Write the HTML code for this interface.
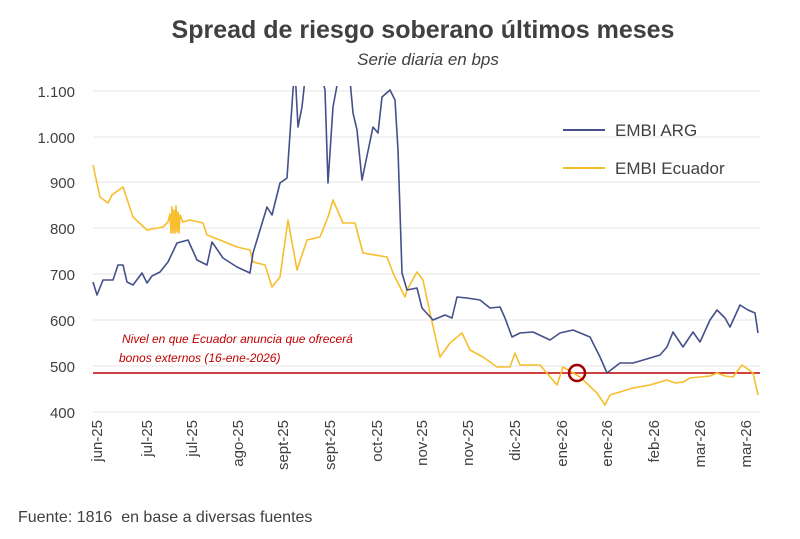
<!DOCTYPE html>
<html><head><meta charset="utf-8"><style>
body{margin:0;background:#fff;}
svg text{font-family:"Liberation Sans",sans-serif;}
</style></head><body>
<svg width="800" height="534" viewBox="0 0 800 534" xmlns="http://www.w3.org/2000/svg">
<defs><clipPath id="c"><rect x="88" y="86" width="680" height="340"/></clipPath></defs>
<text x="423" y="38" text-anchor="middle" font-size="25" font-weight="bold" fill="#404040">Spread de riesgo soberano últimos meses</text>
<text x="428" y="65" text-anchor="middle" font-size="17" font-style="italic" fill="#404040">Serie diaria en bps</text>
<g stroke="#e6e6e6" stroke-width="1">
<line x1="93" x2="760" y1="91" y2="91"/><line x1="93" x2="760" y1="137" y2="137"/><line x1="93" x2="760" y1="182" y2="182"/><line x1="93" x2="760" y1="228" y2="228"/><line x1="93" x2="760" y1="274" y2="274"/><line x1="93" x2="760" y1="320" y2="320"/><line x1="93" x2="760" y1="366" y2="366"/><line x1="93" x2="760" y1="412" y2="412"/>
</g>
<g font-size="15" fill="#404040" text-anchor="end">
<text x="75" y="97">1.100</text><text x="75" y="143">1.000</text><text x="75" y="188">900</text><text x="75" y="234">800</text><text x="75" y="280">700</text><text x="75" y="326">600</text><text x="75" y="372">500</text><text x="75" y="418">400</text>
</g>
<line x1="93" x2="760" y1="373" y2="373" stroke="#c00000" stroke-width="1.5"/>
<text x="122" y="343" font-size="12" font-style="italic" fill="#c00000">Nivel en que Ecuador anuncia que ofrecerá</text>
<text x="119" y="362" font-size="12" font-style="italic" fill="#c00000">bonos externos (16-ene-2026)</text>
<g clip-path="url(#c)" fill="none" stroke-width="1.6" stroke-linejoin="round">
<polyline stroke="#f7be2e" points="93,165 100,197 108,203 112,195 123,187 133,217 147,230 163,227 168,222 170,214 171,233 172,207 173,233 174,210 175,233 176,206 177,232 178,212 179,233 180,215 183,222 190,220 203,223 207,235 220,240 237,247 250,250 253,262 265,265 272,287 280,277 288,220 297,270 307,240 320,237 328,217 333,200 343,223 355,223 363,253 387,257 393,273 405,297 407,290 417,272 423,280 430,313 440,357 450,343 462,333 470,350 483,357 497,367 510,367 515,353 520,365 540,365 557,385 563,367 580,377 597,393 605,405 610,395 633,388 650,385 667,380 675,383 683,382 690,378 700,377 710,376 717,373 725,376 733,377 742,365 753,373 758,395"/>
<polyline stroke="#44508a" points="93,282 97,295 103,280 113,280 118,265 123,265 127,282 133,285 142,273 147,283 152,276 160,272 168,262 177,243 188,240 197,260 207,265 212,242 223,258 237,267 250,273 253,253 267,207 272,215 280,183 287,178 293,90 295,70 298,127 302,107 306,70 320,70 325,90 328,183 333,107 338,80 350,80 353,113 357,130 362,180 373,127 378,133 382,97 390,90 395,100 398,150 402,273 407,290 417,288 422,308 433,320 445,315 452,318 457,297 467,298 480,300 490,308 500,307 505,318 512,337 520,333 533,332 550,340 560,333 573,330 590,337 600,357 607,373 620,363 633,363 650,358 660,355 667,347 673,332 683,347 693,332 700,342 710,320 717,310 725,318 730,327 740,305 748,310 755,313 758,333"/>
</g>
<circle cx="577" cy="373" r="8" fill="none" stroke="#a00000" stroke-width="2.5"/>
<line x1="563" x2="605" y1="130" y2="130" stroke="#44508a" stroke-width="2"/>
<text x="615" y="136" font-size="17" fill="#404040">EMBI ARG</text>
<line x1="563" x2="605" y1="168" y2="168" stroke="#f7be2e" stroke-width="2"/>
<text x="615" y="174" font-size="17" fill="#404040">EMBI Ecuador</text>
<g font-size="15" fill="#404040" text-anchor="end">
<text transform="translate(102,420) rotate(-90)">jun-25</text>
<text transform="translate(152,420) rotate(-90)">jul-25</text>
<text transform="translate(197,420) rotate(-90)">jul-25</text>
<text transform="translate(243,420) rotate(-90)">ago-25</text>
<text transform="translate(288,420) rotate(-90)">sept-25</text>
<text transform="translate(335,420) rotate(-90)">sept-25</text>
<text transform="translate(382,420) rotate(-90)">oct-25</text>
<text transform="translate(427,420) rotate(-90)">nov-25</text>
<text transform="translate(473,420) rotate(-90)">nov-25</text>
<text transform="translate(520,420) rotate(-90)">dic-25</text>
<text transform="translate(567,420) rotate(-90)">ene-26</text>
<text transform="translate(612,420) rotate(-90)">ene-26</text>
<text transform="translate(659,420) rotate(-90)">feb-26</text>
<text transform="translate(705,420) rotate(-90)">mar-26</text>
<text transform="translate(751,420) rotate(-90)">mar-26</text>
</g>
<text x="18" y="522" font-size="16" fill="#404040" xml:space="preserve">Fuente: 1816  en base a diversas fuentes</text>
</svg>
</body></html>
